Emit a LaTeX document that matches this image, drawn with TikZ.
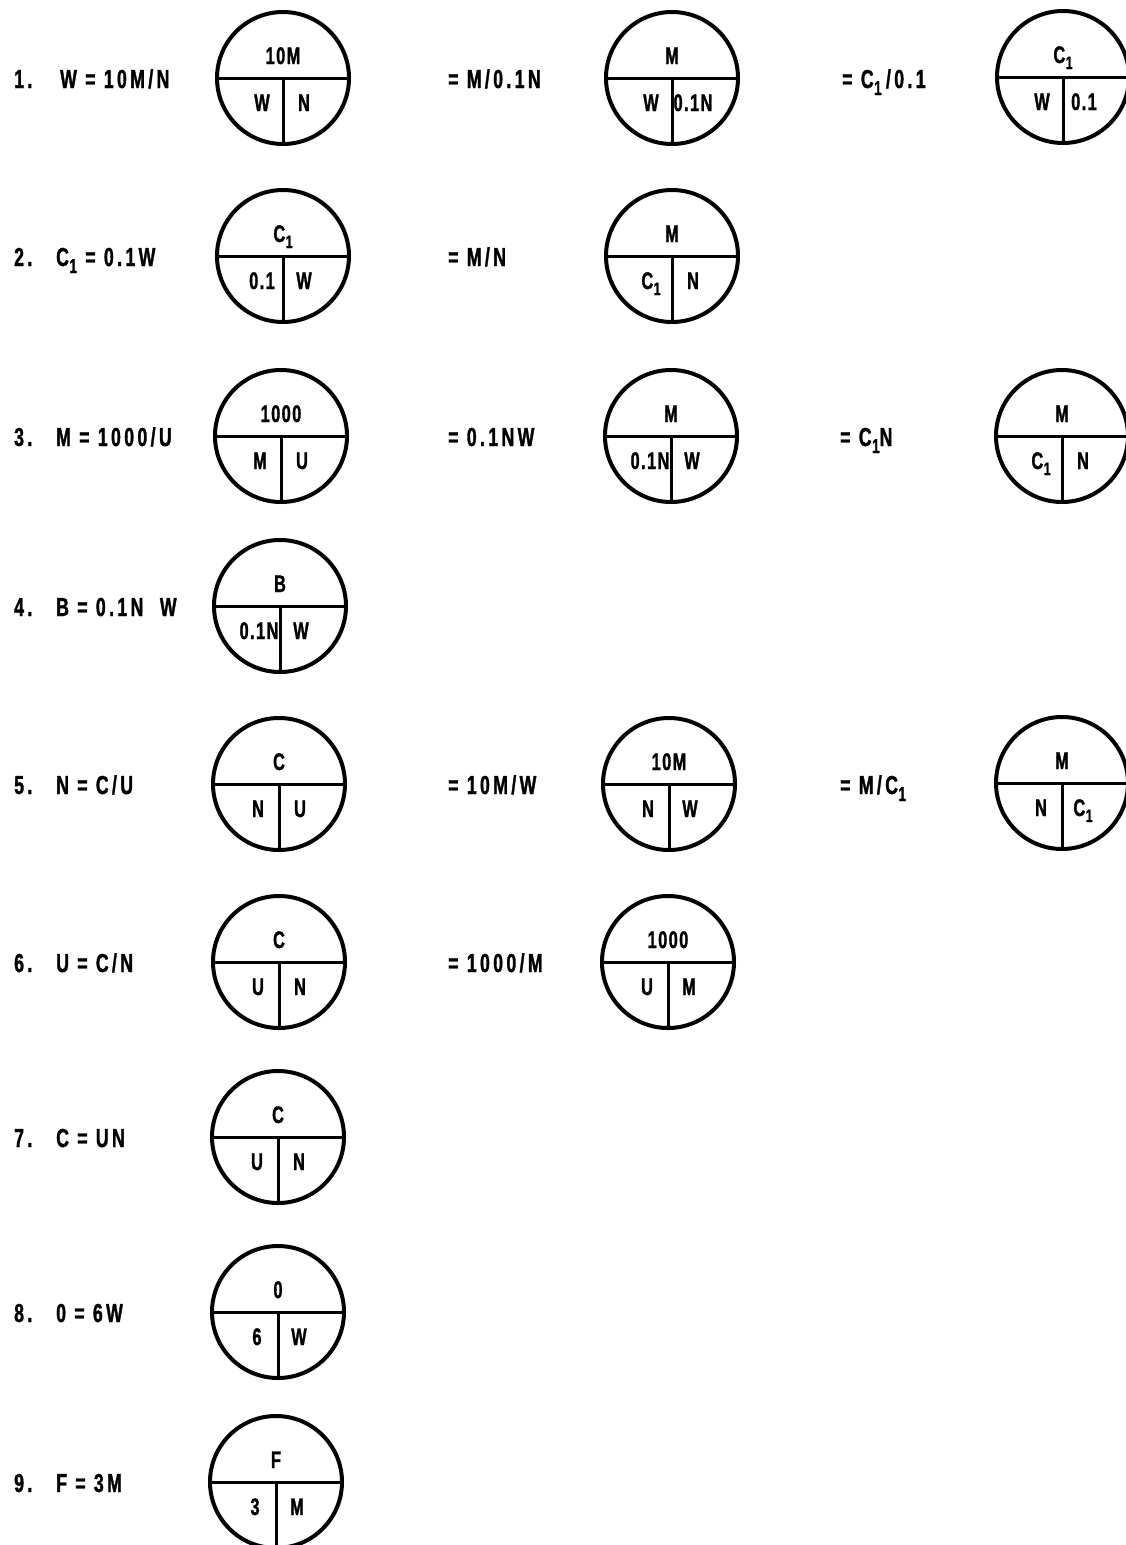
\documentclass[tikz,border=0pt]{standalone}
\usepackage{fontspec}
\setmainfont{Liberation Sans}[FakeStretch=0.7]
\newfontfamily\eqf{Liberation Sans}[FakeStretch=0.68, LetterSpace=13, FakeBold=1.2]
\newfontfamily\cirf{Liberation Sans}[FakeStretch=0.68, LetterSpace=6, FakeBold=1.2]
\newcommand\Cone{C\kern0.5pt\raisebox{-7pt}{\fontsize{20}{20}\selectfont 1}}
\newcommand\Conec{C\kern0.5pt\raisebox{-6pt}{\fontsize{18}{18}\selectfont 1}}
\newcommand\mycirc[6]{%
  \node[sq] (#1) at (#2,#3) {};
  \draw[div] (#1.west) -- (#1.east);
  \draw[div] (#1.center) -- (#1.south);
  \node[qt] (#1t) at ([yshift=14pt]#1.center) {#4};
  \node[qt] (#1l) at ([xshift=-21pt,yshift=-33pt]#1.center) {#5};
  \node[qt] (#1r) at ([xshift=21pt,yshift=-33pt]#1.center) {#6};
}
\begin{document}
\begin{tikzpicture}[x=1pt,y=-1pt,
  sq/.style={circle, draw, line width=4pt, minimum size=132pt, inner sep=0pt, outer sep=0pt},
  div/.style={line width=3pt},
  qt/.style={font=\cirf\bfseries\fontsize{24}{27}\selectfont, anchor=base, inner sep=0pt},
  eq/.style={font=\eqf\bfseries\fontsize{26}{29}\selectfont, anchor=base west, inner sep=0pt}]
\useasboundingbox (0,0) rectangle (1126,1545);
\fill[white] (0,0) rectangle (1126,1545);
% row 1
\node[eq] (n1) at (14,88) {1.};
\node[eq] (e1) at (60,88) {W = 10M/N};
\node[eq] (e1b) at (448,88) {= M/0.1N};
\node[eq] (e1c) at (842,88) {= \Cone\,/0.1};
\mycirc{c1a}{283}{78}{10M}{W}{N}
\mycirc{c1b}{672}{78}{M}{W}{0.1N}
\mycirc{c1c}{1063}{77}{\Conec}{W}{0.1}
% row 2
\node[eq] (n2) at (14,266) {2.};
\node[eq] (e2) at (56,266) {\Cone\ = 0.1W};
\node[eq] (e2b) at (448,266) {= M/N};
\mycirc{c2a}{283}{256}{\Conec}{0.1}{W}
\mycirc{c2b}{672}{256}{M}{\Conec}{N}
% row 3
\node[eq] (n3) at (14,446) {3.};
\node[eq] (e3) at (56,446) {M = 1000/U};
\node[eq] (e3b) at (448,446) {= 0.1NW};
\node[eq] (e3c) at (840,446) {= \Cone N};
\mycirc{c3a}{281}{436}{1000}{M}{U}
\mycirc{c3b}{671}{436}{M}{0.1N}{W}
\mycirc{c3c}{1062}{436}{M}{\Conec}{N}
% row 4
\node[eq] (n4) at (14,616) {4.};
\node[eq] (e4) at (56,616) {B = 0.1N\ \ W};
\mycirc{c4a}{280}{606}{B}{0.1N}{W}
% row 5
\node[eq] (n5) at (14,794) {5.};
\node[eq] (e5) at (56,794) {N = C/U};
\node[eq] (e5b) at (448,794) {= 10M/W};
\node[eq] (e5c) at (840,794) {= M/\Cone};
\mycirc{c5a}{279}{784}{C}{N}{U}
\mycirc{c5b}{669}{784}{10M}{N}{W}
\mycirc{c5c}{1062}{783}{M}{N}{\Conec}
% row 6
\node[eq] (n6) at (14,972) {6.};
\node[eq] (e6) at (56,972) {U = C/N};
\node[eq] (e6b) at (448,972) {= 1000/M};
\mycirc{c6a}{279}{962}{C}{U}{N}
\mycirc{c6b}{668}{962}{1000}{U}{M}
% row 7
\node[eq] (n7) at (14,1147) {7.};
\node[eq] (e7) at (56,1147) {C = UN};
\mycirc{c7a}{278}{1137}{C}{U}{N}
% row 8
\node[eq] (n8) at (14,1322) {8.};
\node[eq] (e8) at (56,1322) {0 = 6W};
\mycirc{c8a}{278}{1312}{0}{6}{W}
% row 9
\node[eq] (n9) at (14,1492) {9.};
\node[eq] (e9) at (56,1492) {F = 3M};
\mycirc{c9a}{276}{1482}{F}{3}{M}
\end{tikzpicture}
\end{document}
